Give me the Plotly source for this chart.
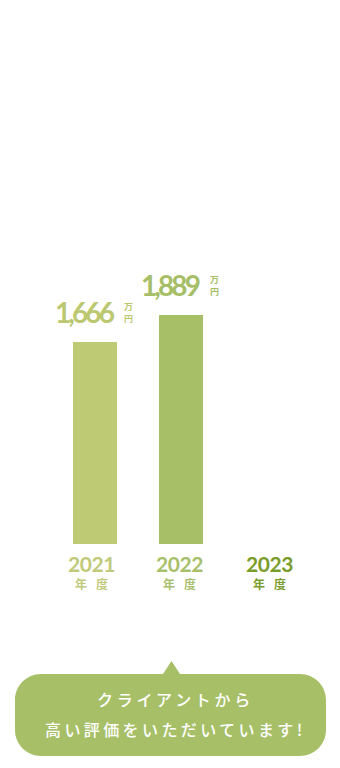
import plotly.graph_objects as go

# ---- data ----
categories = ["2021", "2022", "2023"]
values = [1666, 1889, None]
value_labels = ["1,666", "1,889", ""]
unit_label = "万<br>円"
year_suffix = "年度"
bubble_lines = ["クライアントから", "高い評価をいただいています!"]

# ---- layout constants ----
W, H = 340, 768
ML, MR, MT, MB = 52, 30, 44, 224
PW, PH = W - ML - MR, H - MT - MB
YMAX = 4125

bar_colors = ["#bfca74", "#a7c068", "#a7c068"]
num_colors = ["#bcc870", "#a6be66", "#a6be66"]
year_colors = ["#c0ca7a", "#a8bf6c", "#7a9c2a"]
year_xshift = [-4, -2, 2]
bubble_color = "#a7c068"

NUM_FONT = "Lato, Roboto, sans-serif"
JP_FONT = "Noto Sans CJK JP, Noto Sans, sans-serif"


def px(x):
    return (x - ML) / PW


def py(y):
    return (H - MB - y) / PH


def spaced(s, sp):
    """letter-spacing on all but the last character (no trailing gap)."""
    return f"<span style='letter-spacing:{sp}px'>{s[:-1]}</span>{s[-1]}"


fig = go.Figure(
    go.Bar(
        x=categories,
        y=values,
        width=0.523,
        marker=dict(color=bar_colors, line_width=0),
        hoverinfo="skip",
    )
)

ann = []
for i, cat in enumerate(categories):
    if values[i] is not None:
        ann.append(dict(
            x=i, y=values[i], xref="x", yref="y", text=spaced(value_labels[i], -2.9),
            showarrow=False, xanchor="right", yanchor="middle",
            xshift=22, yshift=30,
            font=dict(family=NUM_FONT, size=28, color=num_colors[i], weight=700),
        ))
        ann.append(dict(
            x=i, y=values[i], xref="x", yref="y", text=unit_label,
            showarrow=False, xanchor="left", yanchor="middle",
            xshift=27, yshift=30,
            font=dict(family=JP_FONT, size=9, color=num_colors[i], weight=700),
        ))
    year_txt = (
        f"<span style='font-family:Lato, Roboto, sans-serif;font-size:21px;"
        f"font-weight:700;letter-spacing:-0.4px'>{cat}</span><br>"
        f"<span style='font-size:12px'>{spaced(year_suffix, 9)}</span>"
    )
    ann.append(dict(
        x=i, y=0, xref="x", yref="y", text=year_txt,
        showarrow=False, xanchor="center", yanchor="top",
        xshift=year_xshift[i], yshift=-5,
        font=dict(family=JP_FONT, size=13, color=year_colors[i], weight=700),
    ))

# speech bubble
x0, x1, y0, y1, r = 15, 326, 674, 756, 26
tl, tr, ax, ay = 163, 180, 171.5, 661
k = 0.552 * r
path = (
    f"M {px(x0 + r)},{py(y0)} L {px(tl)},{py(y0)} L {px(ax)},{py(ay)} "
    f"L {px(tr)},{py(y0)} L {px(x1 - r)},{py(y0)} "
    f"C {px(x1 - r + k)},{py(y0)} {px(x1)},{py(y0 + r - k)} {px(x1)},{py(y0 + r)} "
    f"L {px(x1)},{py(y1 - r)} "
    f"C {px(x1)},{py(y1 - r + k)} {px(x1 - r + k)},{py(y1)} {px(x1 - r)},{py(y1)} "
    f"L {px(x0 + r)},{py(y1)} "
    f"C {px(x0 + r - k)},{py(y1)} {px(x0)},{py(y1 - r + k)} {px(x0)},{py(y1 - r)} "
    f"L {px(x0)},{py(y0 + r)} "
    f"C {px(x0)},{py(y0 + r - k)} {px(x0 + r - k)},{py(y0)} {px(x0 + r)},{py(y0)} Z"
)
shapes = [dict(type="path", path=path, xref="paper", yref="paper",
               fillcolor=bubble_color, line=dict(width=0), layer="above")]

for line, yc, sp in zip(bubble_lines, [699, 728.5], [3.7, 3.4]):
    ann.append(dict(
        x=px(173), y=py(yc), xref="paper", yref="paper", text=spaced(line, sp),
        showarrow=False, xanchor="center", yanchor="middle",
        font=dict(family=JP_FONT, size=16, color="#ffffff", weight=500),
    ))

fig.update_layout(
    width=W, height=H, autosize=False,
    margin=dict(l=ML, r=MR, t=MT, b=MB, pad=0),
    paper_bgcolor="#ffffff", plot_bgcolor="#ffffff",
    showlegend=False, bargap=0,
    xaxis=dict(visible=False, range=[-0.5, 2.5], type="category",
               categoryorder="array", categoryarray=categories, fixedrange=True),
    yaxis=dict(visible=False, range=[0, YMAX], fixedrange=True),
    annotations=ann, shapes=shapes,
)

fig.write_html("out.html", config={"displayModeBar": False, "staticPlot": True})
